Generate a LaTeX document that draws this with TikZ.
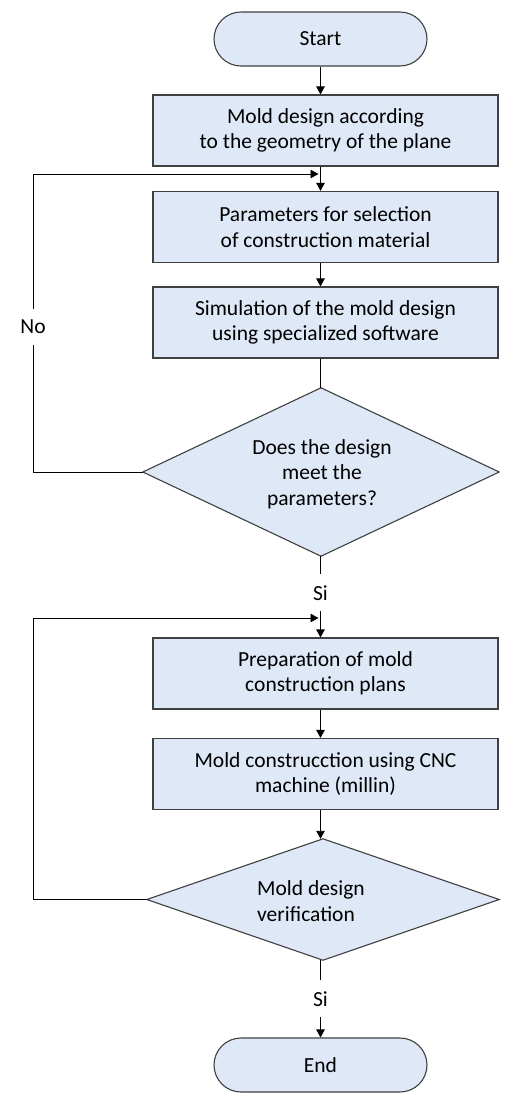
\documentclass[tikz,border=0pt]{standalone}
\usepackage{fontspec}
\setmainfont{Carlito}
\usetikzlibrary{arrows.meta}
\definecolor{boxfill}{RGB}{223,232,246}
\definecolor{boxline}{RGB}{64,64,64}
\tikzset{
  base/.style={font=\fontsize{21.5}{25.3}\selectfont, align=center, inner sep=0pt},
  procbox/.style={base, draw=boxline, line width=1.2pt, fill=boxfill, minimum width=345pt, minimum height=71pt},
  pill/.style={base, draw=boxline, line width=1.1pt, fill=boxfill, minimum width=213pt, minimum height=54pt, rounded corners=27pt},
  decbox/.style={base},
  decshape/.style={draw=boxline, line width=1.1pt, fill=boxfill},
  conn/.style={line width=0.9pt, black},
  arr/.style={conn, -{Triangle[width=8.5pt,length=8pt]}},
  lbl/.style={base, fill=white, inner xsep=3pt, inner ysep=11pt},
}
\begin{document}
\begin{tikzpicture}[x=1pt,y=-1pt]
\useasboundingbox (0,0) rectangle (520,1106);
\node[pill] (start) at (320.5,39) {Start};
\node[procbox] (b1) at (325.5,130.5) {Mold design according\\to the geometry of the plane};
\node[procbox] (b2) at (325.5,227) {Parameters for selection\\of construction material};
\node[procbox] (b3) at (325.5,322.5) {Simulation of the mold design\\using specialized software};
\node[decbox, minimum width=356pt, minimum height=168pt] (d1) at (321,472) {};
\draw[decshape] (d1.north) -- (d1.east) -- (d1.south) -- (d1.west) -- cycle;
\node[base] at (322,474) {Does the design\\meet the\\parameters?};
\node[procbox] (b4) at (325.5,673.5) {Preparation of mold\\construction plans};
\node[procbox] (b5) at (325.5,774) {Mold construcction using CNC\\machine (millin)};
\node[decbox, minimum width=352pt, minimum height=121pt] (d2) at (323,899.5) {};
\draw[decshape] (d2.north) -- (d2.east) -- (d2.south) -- (d2.west) -- cycle;
\node[base, align=left] at (311,901) {Mold design\\verification};
\node[pill] (end) at (320.5,1065) {End};

\coordinate (l1a) at (33,174);
\coordinate (l1j) at (320,174);
\coordinate (l2a) at (33,618);
\coordinate (l2j) at (320,618);

\draw[arr] (start.south) -- (start.south |- b1.north);
\draw[arr] (b1.south -| start) -- (b2.north -| start);
\draw[arr] (b2.south -| start) -- (b3.north -| start);
\draw[conn] (b3.south -| start) -- (d1.north -| start);
\draw[arr] (d1.south -| start) -- node[lbl, pos=0.45] {Si} (b4.north -| start);
\draw[arr] (b4.south -| start) -- (b5.north -| start);
\draw[arr] (b5.south -| start) -- (d2.north -| start);
\draw[arr] (d2.south -| start) -- node[lbl, pos=0.5] {Si} (end.north);

\draw[arr, shorten >=1.5pt] (d1.west) -| node[lbl, pos=0.744] {No} (l1a) -- (l1j);
\draw[arr, shorten >=1.5pt] (d2.west) -| (l2a) -- (l2j);
\end{tikzpicture}
\end{document}
